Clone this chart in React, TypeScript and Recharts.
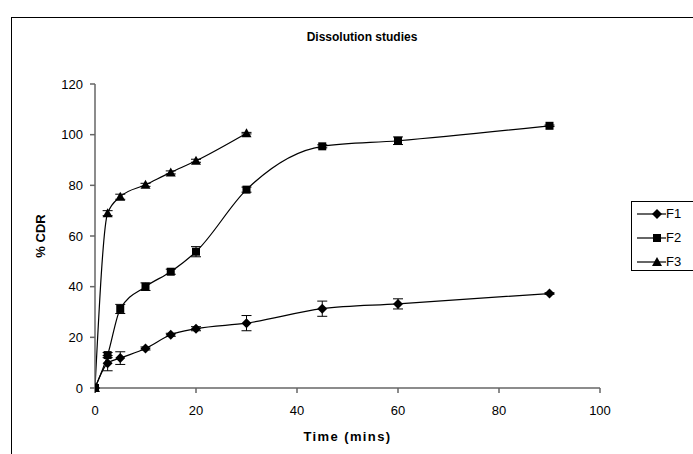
import React from 'react';
import { LineChart, Line, XAxis, YAxis, ErrorBar, Label } from 'recharts';

const timesF1 = [0, 2.5, 5, 10, 15, 20, 30, 45, 60, 90];
const f1Values = [0, 9.8, 11.8, 15.6, 21, 23.4, 25.6, 31.3, 33.2, 37.3];
const f1Errors = [0, 3, 2.5, 0.6, 0.6, 0.8, 3, 3, 2, 0.3];

const timesF2 = [0, 2.5, 5, 10, 15, 20, 30, 45, 60, 90];
const f2Values = [0, 13, 31.2, 40, 45.9, 53.8, 78.3, 95.4, 97.6, 103.5];
const f2Errors = [0, 1, 1.8, 1.5, 1, 2, 1, 0.6, 1.5, 0.3];

const timesF3 = [0, 2.5, 5, 10, 15, 20, 30];
const f3Values = [0, 69, 75.5, 80.2, 85.1, 89.7, 100.6];
const f3Errors = [0, 1, 1, 0.6, 0.6, 0.6, 0.3];

const xTicks = [0, 20, 40, 60, 80, 100];
const yTicks = [0, 20, 40, 60, 80, 100, 120];
const seriesNames = ['F1', 'F2', 'F3'];

const build = (t: number[], v: number[], e: number[]) =>
  t.map((x, i) => ({ x, y: v[i], err: e[i] }));

const f1Data = build(timesF1, f1Values, f1Errors);
const f2Data = build(timesF2, f2Values, f2Errors);
const f3Data = build(timesF3, f3Values, f3Errors);

const FONT = '"Liberation Sans", Arial, sans-serif';

const diamondPath = (cx: number, cy: number, r = 5) =>
  `M${cx},${cy - r}L${cx + r},${cy}L${cx},${cy + r}L${cx - r},${cy}Z`;
const squarePath = (cx: number, cy: number, r = 4) =>
  `M${cx - r},${cy - r}H${cx + r}V${cy + r}H${cx - r}Z`;
const trianglePath = (cx: number, cy: number, r = 5) =>
  `M${cx},${cy - r}L${cx + r},${cy + r - 1}L${cx - r},${cy + r - 1}Z`;

const makeDot = (fn: (cx: number, cy: number) => string, name: string) => (props: any) => {
  const { cx, cy, index } = props;
  if (cx == null || cy == null) return <g key={`${name}-${index}`} />;
  return <path key={`${name}-${index}`} d={fn(cx, cy)} fill="#000" stroke="none" />;
};

const shapes = [diamondPath, squarePath, trianglePath];

const LegendBox = () => (
  <div
    style={{
      position: 'absolute',
      left: 631,
      top: 201,
      width: 80,
      height: 70,
      border: '1px solid #000',
      background: '#fff',
      boxSizing: 'border-box',
    }}
  >
    {seriesNames.map((n, i) => (
      <div
        key={n}
        style={{ position: 'absolute', left: 0, top: 3 + i * 24, height: 18, width: 80 }}
      >
        <svg width={32} height={18} style={{ position: 'absolute', left: 4, top: 0 }}>
          <line x1={1} y1={9} x2={30} y2={9} stroke="#000" strokeWidth={1.2} />
          <path d={shapes[i](21, 9)} fill="#000" />
        </svg>
        <span
          style={{
            position: 'absolute',
            left: 34,
            top: 1,
            fontFamily: FONT,
            fontSize: 13,
            color: '#000',
            lineHeight: '16px',
          }}
        >
          {n}
        </span>
      </div>
    ))}
  </div>
);

export default function App() {
  return (
    <div style={{ position: 'absolute', left: 0, top: 0, width: 693, height: 454, overflow: 'hidden', background: '#fff' }}>
      <div
        style={{
          position: 'absolute',
          left: 11,
          top: 17,
          width: 720,
          height: 480,
          border: '1.5px solid #000',
        }}
      />
      <div
        style={{
          position: 'absolute',
          left: 262,
          top: 30,
          width: 200,
          textAlign: 'center',
          fontFamily: FONT,
          fontWeight: 'bold',
          fontSize: 12,
          color: '#000',
        }}
      >
        Dissolution studies
      </div>
      <div style={{ position: 'absolute', left: 0, top: 0 }}>
        <LineChart
          width={693}
          height={454}
          margin={{ top: 84, right: 93, bottom: 36, left: 55 }}
        >
          <XAxis
            dataKey="x"
            type="number"
            domain={[0, 100]}
            ticks={xTicks}
            allowDataOverflow
            stroke="#666"
            strokeWidth={1.5}
            tickSize={5}
            tickMargin={13}
            height={30}
            tick={{ fill: '#000', fontSize: 13, fontFamily: FONT }}
          >
            <Label
              value="Time (mins)"
              position="insideBottom"
              offset={-23}
              style={{ fontFamily: FONT, fontWeight: 'bold', fontSize: 13, fill: '#000', letterSpacing: 1.4 }}
            />
          </XAxis>
          <YAxis
            type="number"
            domain={[0, 120]}
            ticks={yTicks}
            stroke="#666"
            strokeWidth={1.5}
            tickSize={5}
            tickMargin={7}
            width={40}
            tick={{ fill: '#000', fontSize: 13, fontFamily: FONT }}
          >
            <Label
              value="% CDR"
              angle={-90}
              position="insideLeft"
              offset={-15}
              style={{ fontFamily: FONT, fontWeight: 'bold', fontSize: 13, fill: '#000', textAnchor: 'middle' }}
            />
          </YAxis>
          <Line
            data={f1Data}
            dataKey="y"
            name="F1"
            type="monotone"
            stroke="#000"
            strokeWidth={1.2}
            dot={makeDot(diamondPath, 'f1')}
            activeDot={false}
            isAnimationActive={false}
          >
            <ErrorBar dataKey="err" direction="y" width={5} stroke="#000" strokeWidth={1} />
          </Line>
          <Line
            data={f2Data}
            dataKey="y"
            name="F2"
            type="monotone"
            stroke="#000"
            strokeWidth={1.2}
            dot={makeDot(squarePath, 'f2')}
            activeDot={false}
            isAnimationActive={false}
          >
            <ErrorBar dataKey="err" direction="y" width={5} stroke="#000" strokeWidth={1} />
          </Line>
          <Line
            data={f3Data}
            dataKey="y"
            name="F3"
            type="monotone"
            stroke="#000"
            strokeWidth={1.2}
            dot={makeDot(trianglePath, 'f3')}
            activeDot={false}
            isAnimationActive={false}
          >
            <ErrorBar dataKey="err" direction="y" width={5} stroke="#000" strokeWidth={1} />
          </Line>
        </LineChart>
      </div>
      <LegendBox />
    </div>
  );
}
